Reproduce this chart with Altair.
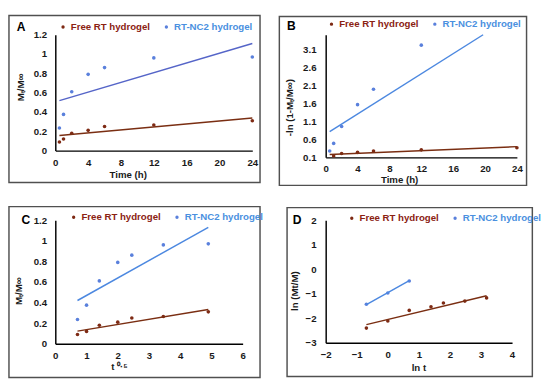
import altair as alt
import pandas as pd

SERIES = ["Free RT hydrogel", "RT-NC2 hydrogel"]

# ---- data ----
time_h = [0.5, 1, 2, 4, 6, 12, 24]
sqrt_t = [0.71, 1.0, 1.41, 2.0, 2.45, 3.46, 4.9]
ln_t = [-0.69, 0.0, 0.69, 1.39, 1.79, 2.48, 3.18]
free_mt = [0.09, 0.12, 0.18, 0.21, 0.25, 0.265, 0.31]
nc2_mt = [0.235, 0.375, 0.61, 0.79, 0.86, 0.96, 0.97]
b_free_t = [1, 2, 4, 6, 12, 24]
b_free = [0.14, 0.21, 0.24, 0.28, 0.31, 0.37]
b_nc2_t = [0.5, 1, 2, 4, 6, 12]
b_nc2 = [0.28, 0.49, 0.96, 1.57, 2.0, 3.23]
d_free = [-2.4, -2.11, -1.68, -1.53, -1.38, -1.3, -1.17]
d_nc2_x = [-0.69, 0.0, 0.69]
d_nc2 = [-1.43, -0.97, -0.48]

# trendline end points
a_fit_x = [0.5, 24]
a_free_fit = [0.157, 0.338]
a_nc2_fit = [0.518, 1.11]
b_free_fit_x = [0.5, 24]
b_free_fit = [0.18, 0.40]
b_nc2_fit_x = [0.5, 19.76]
b_nc2_fit = [0.817, 3.52]
c_fit_x = [0.71, 4.9]
c_free_fit = [0.123, 0.332]
c_nc2_fit = [0.42, 1.13]
d_free_fit_x = [-0.69, 3.18]
d_free_fit = [-2.26, -1.08]
d_nc2_fit_x = [-0.69, 0.69]
d_nc2_fit = [-1.44, -0.47]

# axis ticks
time_ticks = [0, 4, 8, 12, 16, 20, 24]
mt_ticks = [0, 0.2, 0.4, 0.6, 0.8, 1, 1.2]
b_yticks = [0.1, 0.6, 1.1, 1.6, 2.1, 2.6, 3.1]
c_xticks = [0, 1, 2, 3, 4, 5, 6]
d_xticks = [-2, -1, 0, 1, 2, 3, 4]
d_yticks = [-3, -2, -1, 0, 1, 2]

FONT = "Liberation Sans"
BROWN = "#7E2A14"
BLUE = "#5A80DC"
BROWN_LINE = "#7A2E12"
BLUE_LINE_A = "#5565C8"
BLUE_LINE = "#4C88E0"
LABEL_COLOR_EXPR = "datum.label == 'Free RT hydrogel' ? '#8B2212' : '#4A90E0'"


def pts(xf, yf, xn, yn):
    rows = [{"x": a, "y": b, "series": SERIES[0]} for a, b in zip(xf, yf)]
    rows += [{"x": a, "y": b, "series": SERIES[1]} for a, b in zip(xn, yn)]
    return pd.DataFrame(rows)


def panel(letter, df, fits, xdom, ydom, xticks, yticks, xtitle, ytitle,
          w, h, frame, letter_pos, legend_pos, xt, yt, ylabpad):
    common = dict(grid=False, ticks=False, tickSize=0, domainColor="black",
                  domainWidth=1.5, labelFont=FONT, labelFontSize=10,
                  labelFontWeight="bold", labelColor="#1a1a1a",
                  format="~g", labelOverlap=False, labelFlush=False,
                  titleFont=FONT, titleFontSize=10,
                  titleFontWeight="bold", titleColor="#1a1a1a",
                  titleAlign="center", titleBaseline="middle")
    xaxis = alt.Axis(values=xticks, tickCount=len(xticks) + 2, title=xtitle,
                     labelPadding=7, titleX=xt[0], titleY=xt[1], **common)
    yaxis = alt.Axis(values=yticks, tickCount=len(yticks) + 2, title=ytitle,
                     labelPadding=ylabpad, titleX=yt[0], titleY=yt[1],
                     titleAngle=270, **common)
    xs = alt.Scale(domain=xdom, nice=False, zero=False)
    ys = alt.Scale(domain=ydom, nice=False, zero=False)
    X = alt.X("x:Q", scale=xs, axis=xaxis)
    Y = alt.Y("y:Q", scale=ys, axis=yaxis)
    points = alt.Chart(df).mark_circle(size=14, opacity=1).encode(
        x=X, y=Y,
        color=alt.Color("series:N",
                        scale=alt.Scale(domain=SERIES, range=[BROWN, BLUE]),
                        legend=alt.Legend(orient="none", legendX=legend_pos[0],
                                          legendY=legend_pos[1], direction="horizontal",
                                          title=None, symbolType="circle", symbolSize=12,
                                          symbolStrokeWidth=0, labelFont=FONT,
                                          labelFontSize=10, labelFontWeight="bold",
                                          labelColor={"expr": LABEL_COLOR_EXPR},
                                          labelOffset=3, columnPadding=11, padding=0)),
    )
    layers = [points]
    for fx, fy, col in fits:
        fdf = pd.DataFrame({"x": fx, "y": fy})
        layers.append(alt.Chart(fdf).mark_line(color=col, strokeWidth=1.5).encode(
            x=X, y=Y))
    box = alt.Chart(alt.Data(values=[{}])).mark_rect(
        fillOpacity=0, stroke="#505050", strokeWidth=1.5).encode(
        x=alt.value(frame[0]), x2=alt.value(w + frame[1]),
        y=alt.value(frame[2]), y2=alt.value(h + frame[3]))
    lab = alt.Chart(alt.Data(values=[{}])).mark_text(
        text=letter, font=FONT, fontSize=12.5, fontWeight="bold", align="left",
        baseline="middle", color="black").encode(
        x=alt.value(letter_pos[0]), y=alt.value(letter_pos[1]))
    return alt.layer(*layers, box, lab).properties(width=w, height=h)


pA = panel("A", pts(time_h, free_mt, time_h, nc2_mt),
           [(a_fit_x, a_free_fit, BROWN_LINE), (a_fit_x, a_nc2_fit, BLUE_LINE_A)],
           [0, 24], [0, 1.2], time_ticks, mt_ticks, "Time (h)", "Mₜ/M∞",
           204, 120, (-48, 8, -20, 33), (-40, -8), (3, -13), (75, 25), (-36, 54), 9)

pB = panel("B", pts(b_free_t, b_free, b_nc2_t, b_nc2),
           [(b_free_fit_x, b_free_fit, BROWN_LINE), (b_nc2_fit_x, b_nc2_fit, BLUE_LINE)],
           [0, 24], [0.1, 3.52], time_ticks, b_yticks, "Time (h)", "-ln (1-Mₜ/M∞)",
           198, 127, (-48, 10, -19, 29), (-40, -9), (1, -16), (76, 23), (-37, 75), 10)

pC = panel("C", pts(sqrt_t, free_mt, sqrt_t, nc2_mt),
           [(c_fit_x, c_free_fit, BROWN_LINE), (c_fit_x, c_nc2_fit, BLUE_LINE)],
           [0, 6], [0, 1.2], c_xticks, mt_ticks, "t ⁰·⁵", "Mₜ/M∞",
           194, 128, (-48, 18, -14, 35), (-35, 0), (14, -8), (66, 24), (-38, 73), 9)

pD = panel("D", pts(ln_t, d_free, d_nc2_x, d_nc2),
           [(d_free_fit_x, d_free_fit, BROWN_LINE), (d_nc2_fit_x, d_nc2_fit, BLUE_LINE)],
           [-2, 4], [-3, 2], d_xticks, d_yticks, "ln t", "ln (Mt/M)",
           193, 127, (-40, 21, -13, 35), (-34, 0), (22, -7), (96, 26), (-32, 73), 10)

chart = alt.concat(pA, pB, pC, pD, columns=2, spacing={"row": 20, "column": 15},
                   align="each").resolve_scale(
    color="independent", x="independent", y="independent").resolve_legend(
    color="independent").properties(padding=0).configure_view(
    strokeWidth=0).configure_axis(labelOverlap=False, labelFlush=False)

chart.save("out.html", embed_options={"renderer": "svg", "actions": False})
